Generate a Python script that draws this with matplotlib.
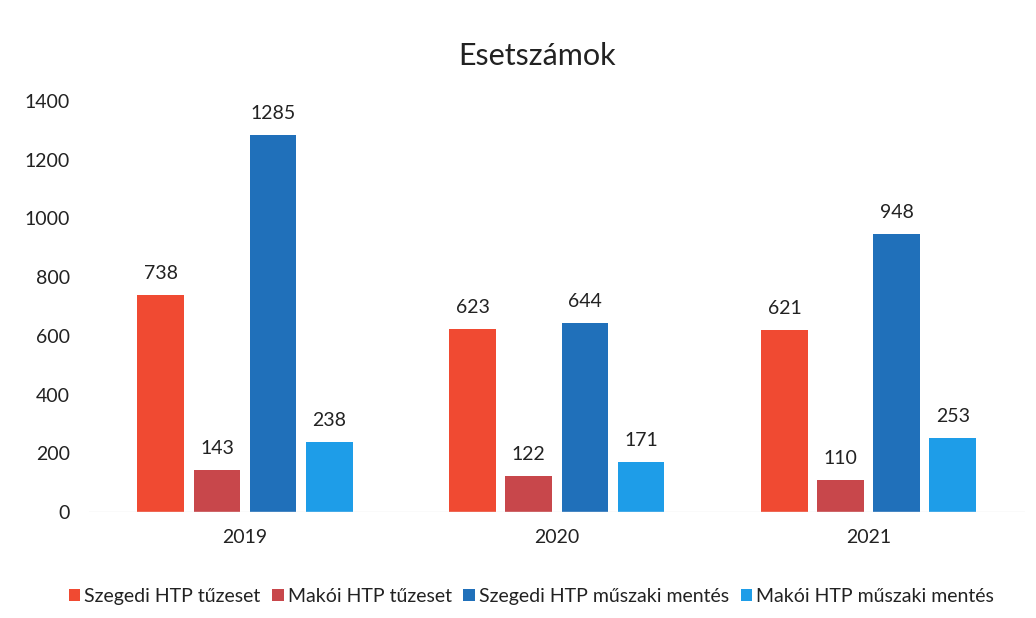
import matplotlib.pyplot as plt
import numpy as np

plt.rcParams['font.family'] = ['Lato', 'DejaVu Sans']

years = ['2019', '2020', '2021']
series = ['Szegedi HTP tűzeset', 'Makói HTP tűzeset',
          'Szegedi HTP műszaki mentés', 'Makói HTP műszaki mentés']
values = [
    [738, 623, 621],
    [143, 122, 110],
    [1285, 644, 948],
    [238, 171, 253],
]
colors = ['#F04A32', '#C8474B', '#2070BA', '#1E9DE8']

fig = plt.figure(figsize=(10.36, 6.18), dpi=100)
ax = fig.add_axes([0.086, 0.1715, 0.903, 0.665])

x = np.arange(len(years))
width = 0.15
step = 0.18
for i, (name, vals) in enumerate(zip(series, values)):
    pos = x + (i - 1.5) * step
    bars = ax.bar(pos, vals, width, color=colors[i], label=name)
    for b, v in zip(bars, vals):
        ax.text(b.get_x() + b.get_width() / 2, v + 45, str(v),
                ha='center', va='bottom', fontsize=14, color='#222222')

ax.set_xlim(-0.5, 2.5)
ax.set_ylim(0, 1400)
ax.set_yticks(range(0, 1401, 200))
ax.set_xticks(x)
ax.set_xticklabels(years)
ax.tick_params(axis='both', length=0, labelsize=14, colors='#222222')
ax.tick_params(axis='y', pad=14)
ax.tick_params(axis='x', pad=12)
for s in ax.spines.values():
    s.set_visible(False)
ax.axhline(0, color='#e8e8e8', lw=1)

fig.text(0.518, 0.91, 'Esetszámok', ha='center', va='center', fontsize=22, color='#222222')

fig.legend(loc='center', bbox_to_anchor=(0.513, 0.035), ncol=4, frameon=False,
           fontsize=14, handlelength=0.6, handleheight=0.6, handletextpad=0.2,
           columnspacing=0.6, labelcolor='#222222')

fig.savefig('out.png', dpi=100, facecolor='white')
